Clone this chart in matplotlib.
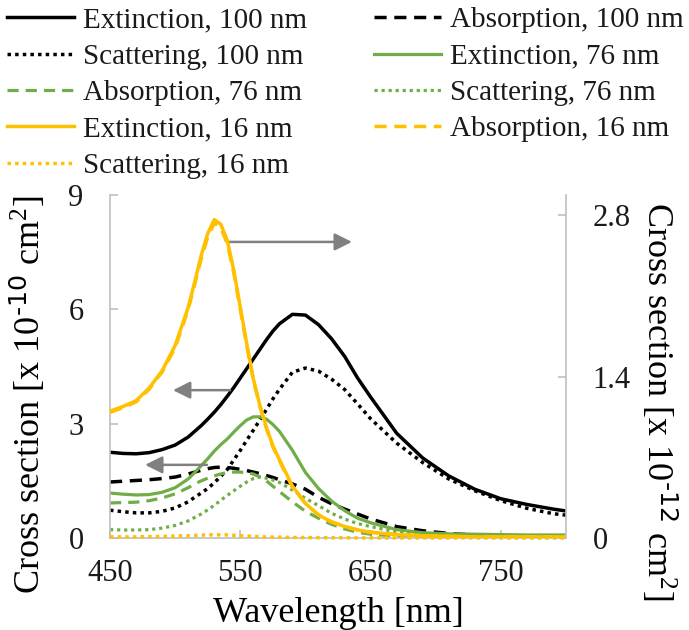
import matplotlib
matplotlib.use("Agg")
import matplotlib.pyplot as plt

plt.rcParams['font.family'] = ['Liberation Serif', 'DejaVu Serif']
plt.rcParams['mathtext.default'] = 'regular'
plt.rcParams['text.color'] = '#1a1a1a'
plt.rcParams['xtick.color'] = '#bfbfbf'
plt.rcParams['ytick.color'] = '#bfbfbf'
plt.rcParams['xtick.labelcolor'] = '#1a1a1a'
plt.rcParams['ytick.labelcolor'] = '#1a1a1a'

# wavelength grid [nm]
wl = [450, 460, 470, 480, 490, 500, 510, 515, 520, 525, 530, 535, 540, 545,
      550, 555, 560, 565, 570, 575, 580, 590, 600, 610, 620, 630, 640, 650,
      670, 690, 710, 730, 750, 770, 790, 800]

# 100 nm, left axis [x 1e-10 cm2]
ext100 = [2.25, 2.22, 2.21, 2.24, 2.32, 2.44, 2.65, 2.80, 2.95, 3.12, 3.30, 3.50,
          3.72, 3.95, 4.20, 4.45, 4.70, 4.95, 5.20, 5.43, 5.62, 5.87, 5.85, 5.60,
          5.23, 4.77, 4.20, 3.70, 2.75, 2.10, 1.63, 1.28, 1.03, 0.88, 0.76, 0.71]
abs100 = [1.47, 1.49, 1.51, 1.53, 1.56, 1.60, 1.68, 1.73, 1.78, 1.82, 1.85, 1.86,
          1.85, 1.83, 1.80, 1.77, 1.73, 1.69, 1.64, 1.59, 1.53, 1.42, 1.28, 1.07,
          0.90, 0.76, 0.63, 0.50, 0.30, 0.19, 0.12, 0.08, 0.06, 0.04, 0.03, 0.03]
sca100 = [0.73, 0.69, 0.66, 0.66, 0.70, 0.79, 0.95, 1.07, 1.18, 1.30, 1.45, 1.62,
          1.80, 2.05, 2.30, 2.57, 2.83, 3.10, 3.37, 3.65, 3.90, 4.35, 4.46, 4.38,
          4.17, 3.90, 3.52, 3.13, 2.49, 1.98, 1.55, 1.24, 0.98, 0.78, 0.64, 0.60]

# 76 nm, left axis
ext76 = [1.18, 1.15, 1.13, 1.14, 1.20, 1.32, 1.55, 1.72, 1.90, 2.08, 2.28, 2.45,
         2.60, 2.78, 2.95, 3.10, 3.18, 3.18, 3.12, 2.98, 2.80, 2.30, 1.72, 1.30,
         0.97, 0.72, 0.52, 0.40, 0.22, 0.14, 0.11, 0.10, 0.09, 0.08, 0.08, 0.08]
abs76 = [0.92, 0.93, 0.94, 0.98, 1.05, 1.16, 1.32, 1.42, 1.50, 1.57, 1.63, 1.68,
         1.72, 1.73, 1.73, 1.71, 1.68, 1.60, 1.50, 1.36, 1.22, 0.95, 0.70, 0.52,
         0.36, 0.24, 0.15, 0.10, 0.05, 0.03, 0.02, 0.02, 0.01, 0.01, 0.01, 0.01]
sca76 = [0.22, 0.21, 0.21, 0.22, 0.26, 0.33, 0.45, 0.54, 0.63, 0.74, 0.86, 0.99,
         1.12, 1.24, 1.36, 1.47, 1.56, 1.60, 1.57, 1.52, 1.46, 1.26, 1.04, 0.85,
         0.65, 0.50, 0.38, 0.30, 0.16, 0.11, 0.08, 0.07, 0.06, 0.05, 0.05, 0.05]

# 16 nm, right axis [x 1e-12 cm2]
ext16 = [1.10, 1.14, 1.19, 1.30, 1.45, 1.67, 2.00, 2.22, 2.45, 2.64, 2.76, 2.72,
         2.58, 2.32, 2.00, 1.68, 1.38, 1.15, 0.96, 0.80, 0.68, 0.45, 0.30, 0.20,
         0.14, 0.10, 0.07, 0.05, 0.03, 0.02, 0.015, 0.01, 0.01, 0.01, 0.01, 0.01]
abs16 = [1.09, 1.13, 1.18, 1.29, 1.44, 1.65, 1.98, 2.20, 2.42, 2.61, 2.73, 2.69,
         2.55, 2.30, 1.98, 1.66, 1.37, 1.14, 0.95, 0.79, 0.67, 0.44, 0.30, 0.20,
         0.14, 0.10, 0.07, 0.05, 0.03, 0.02, 0.015, 0.01, 0.01, 0.01, 0.01, 0.01]
sca16 = [0.010, 0.010, 0.010, 0.012, 0.014, 0.017, 0.020, 0.022, 0.025, 0.027,
         0.028, 0.028, 0.027, 0.024, 0.020, 0.017, 0.014, 0.011, 0.009, 0.008,
         0.007, 0.005, 0.004, 0.003, 0.002, 0.002, 0.001, 0.001, 0.001, 0.001,
         0.001, 0.001, 0.0, 0.0, 0.0, 0.0]

BLACK = '#000000'
GREEN = '#70ad47'
GOLD = '#ffc000'
GRAY = '#bfbfbf'
dash = (0, (3.5, 2.2))
dot = (0, (1, 1.2))

fig = plt.figure(figsize=(6.89, 6.30), dpi=100)
ax = fig.add_axes([0.1597, 0.146, 0.6618, 0.5444])
ax2 = ax.twinx()

h = {}
h['e100'], = ax.plot(wl, ext100, color=BLACK, lw=2.5, label='Extinction, 100 nm')
h['a100'], = ax.plot(wl, abs100, color=BLACK, lw=2.5, ls=dash, label='Absorption, 100 nm')
h['s100'], = ax.plot(wl, sca100, color=BLACK, lw=2.5, ls=dot, label='Scattering, 100 nm')
h['e76'], = ax.plot(wl, ext76, color=GREEN, lw=2.3, label='Extinction, 76 nm')
h['a76'], = ax.plot(wl, abs76, color=GREEN, lw=2.3, ls=dash, label='Absorption, 76 nm')
h['s76'], = ax.plot(wl, sca76, color=GREEN, lw=2.3, ls=dot, label='Scattering, 76 nm')
h['a16'], = ax2.plot(wl, abs16, color=GOLD, lw=2.5, ls=dash, label='Absorption, 16 nm')
h['e16'], = ax2.plot(wl, ext16, color=GOLD, lw=2.5, label='Extinction, 16 nm')
h['s16'], = ax2.plot(wl, sca16, color=GOLD, lw=2.5, ls=dot, label='Scattering, 16 nm',
                     clip_on=False)

ax.set_xlim(450, 800)
ax.set_ylim(0, 9)
ax2.set_ylim(0, 2.973)
ax.set_xticks([450, 550, 650, 750])
ax.set_yticks([0, 3, 6, 9])
ax2.set_yticks([0, 1.4, 2.8])
ax2.set_yticklabels(['0', '1.4', '2.8'])

for a in (ax, ax2):
    for s in a.spines.values():
        s.set_color(GRAY)
        s.set_linewidth(1.2)
    a.spines['top'].set_visible(False)
ax.spines['right'].set_visible(False)
ax2.spines['left'].set_visible(False)
ax2.spines['bottom'].set_visible(False)

ax.tick_params(axis='x', direction='in', length=6, width=1.2, pad=15, labelsize=22)
ax.tick_params(axis='y', direction='in', length=6, width=1.2, pad=19, labelsize=22)
ax2.tick_params(axis='y', direction='in', length=6, width=1.2, pad=19, labelsize=22)

ax.set_xlabel('Wavelength [nm]', fontsize=26, va='top')
ax.xaxis.set_label_coords(0.5, -0.172)
ax.set_ylabel(r'Cross section [x 10$^{\text{-10}}$ cm$^{2}$]', fontsize=26, va='bottom')
ax.yaxis.set_label_coords(-0.136, 0.417)
ax2.set_ylabel(r'Cross section [x 10$^{\text{-12}}$ cm$^{2}$]', fontsize=26,
               rotation=270, va='bottom')
ax2.yaxis.set_label_coords(1.16, 0.40)

# arrows pointing to the axis each curve belongs to
arrow = dict(arrowstyle='-|>', color='#808080', lw=1.8, mutation_scale=26,
             shrinkA=0, shrinkB=0)
ax.annotate('', xy=(635.7, 7.77), xytext=(539.8, 7.77), arrowprops=arrow)
ax.annotate('', xy=(498.3, 3.88), xytext=(542.1, 3.88), arrowprops=arrow)
ax.annotate('', xy=(476.9, 1.92), xytext=(524.4, 1.92), arrowprops=arrow)

order = ['e100', 's100', 'a76', 'e16', 's16', 'a100', 'e76', 's76', 'a16']
handles = [h[k] for k in order]
fig.legend(handles, [x.get_label() for x in handles], ncol=2, loc='upper left',
           bbox_to_anchor=(0.0, 1.0), frameon=False, fontsize=21,
           handlelength=2.3, handletextpad=0.3, columnspacing=2.3,
           labelspacing=0.34, borderpad=0.24, borderaxespad=0.0)

fig.savefig('out.png', dpi=100)
